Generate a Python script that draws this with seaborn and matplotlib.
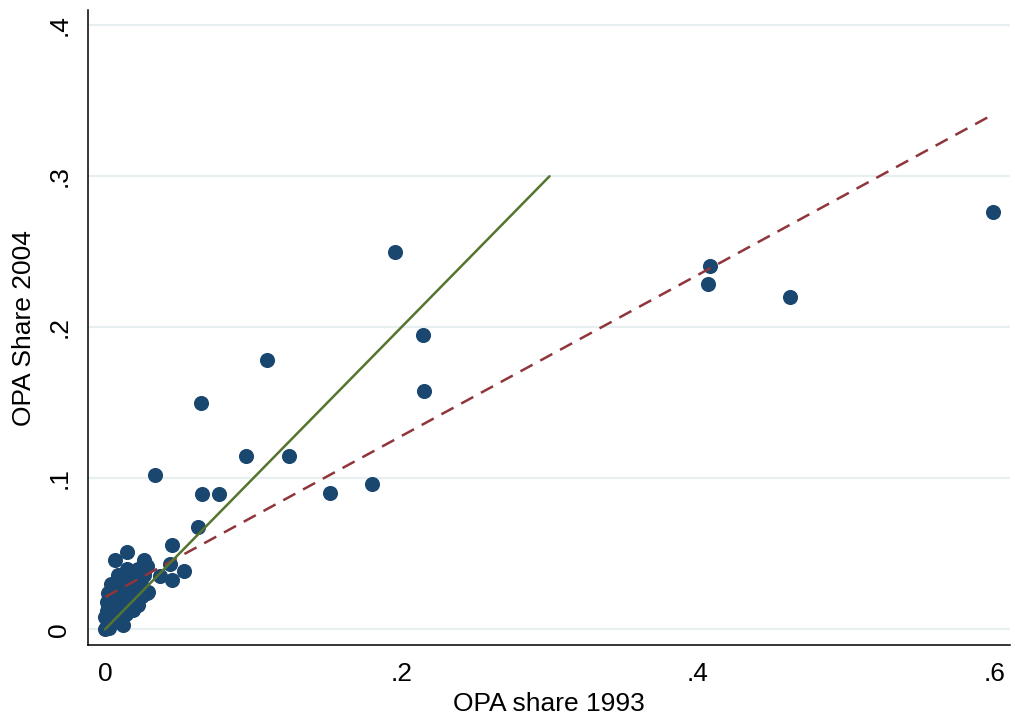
import numpy as np
import pandas as pd
import matplotlib
matplotlib.use("Agg")
import matplotlib.pyplot as plt
import seaborn as sns

# OPA shares (x = 1993, y = 2004)
share_1993 = [
    0.5995, 0.4086, 0.407, 0.462, 0.196, 0.2145, 0.215, 0.109, 0.0645, 0.095,
    0.124, 0.0337, 0.1517, 0.180, 0.0655, 0.077, 0.063, 0.045, 0.053, 0.044,
    0.045, 0.037, 0.028,
    # dense cluster near the origin
    0.000, 0.001, 0.002, 0.000, 0.001, 0.003, 0.002, 0.004, 0.005, 0.006,
    0.003, 0.005, 0.007, 0.008, 0.009, 0.010, 0.011, 0.012, 0.010, 0.008,
    0.006, 0.013, 0.014, 0.012, 0.016, 0.017, 0.018, 0.015, 0.020, 0.021,
    0.019, 0.022, 0.024, 0.026, 0.025, 0.028, 0.029, 0.014, 0.017, 0.022,
    0.007, 0.015, 0.026, 0.027, 0.002, 0.009, 0.003, 0.012, 0.019, 0.0115,
    0.004, 0.001,
]
share_2004 = [
    0.276, 0.2404, 0.2285, 0.220, 0.250, 0.1947, 0.158, 0.178, 0.150, 0.1146,
    0.115, 0.102, 0.090, 0.096, 0.0894, 0.0894, 0.068, 0.056, 0.0384, 0.043,
    0.0325, 0.035, 0.024,
    0.000, 0.002, 0.005, 0.008, 0.012, 0.010, 0.015, 0.004, 0.008, 0.013,
    0.020, 0.018, 0.022, 0.016, 0.010, 0.006, 0.014, 0.020, 0.025, 0.028,
    0.030, 0.027, 0.032, 0.036, 0.024, 0.030, 0.036, 0.040, 0.028, 0.034,
    0.020, 0.040, 0.030, 0.036, 0.022, 0.042, 0.025, 0.010, 0.015, 0.016,
    0.046, 0.051, 0.046, 0.040, 0.024, 0.036, 0.001, 0.003, 0.0126, 0.007,
    0.030, 0.018,
]

# 45-degree reference line and fitted regression line
diag_x = [0.0, 0.3]
diag_y = [0.0, 0.3]
fit_x = [0.0002, 0.5995]
fit_y = [0.0214, 0.341]

x_ticks = [0.0, 0.2, 0.4, 0.6]
x_tick_labels = ["0", ".2", ".4", ".6"]
y_ticks = [0.0, 0.1, 0.2, 0.3, 0.4]
y_tick_labels = ["0", ".1", ".2", ".3", ".4"]

df = pd.DataFrame({"x": share_1993, "y": share_2004})
fit_df = pd.DataFrame({"x": fit_x, "y": fit_y})
diag_df = pd.DataFrame({"x": diag_x, "y": diag_y})

sns.set_style("white")
plt.rcParams["font.family"] = ["Liberation Sans", "DejaVu Sans"]
plt.rcParams["text.color"] = "black"
plt.rcParams["axes.labelcolor"] = "black"
plt.rcParams["xtick.color"] = "black"
plt.rcParams["ytick.color"] = "black"

fig = plt.figure(figsize=(10.15, 7.21), dpi=100)
ax = fig.add_axes([0.0867, 0.105, 0.908, 0.881])

for yt in y_ticks:
    ax.axhline(yt, color="#e8eff1", lw=1.6, zorder=0)

sns.scatterplot(data=df, x="x", y="y", ax=ax, s=118, color="#1a476f",
                linewidth=0, zorder=3, legend=False)
sns.lineplot(data=fit_df, x="x", y="y", ax=ax, color="#90353b", lw=1.8,
             linestyle=(0, (5.5, 3.5)), zorder=4, legend=False)
sns.lineplot(data=diag_df, x="x", y="y", ax=ax, color="#55752f", lw=1.8,
             zorder=5, legend=False)

ax.set_xlim(-0.0115, 0.6105)
ax.set_ylim(-0.0106, 0.41)
ax.set_xticks(x_ticks)
ax.set_xticklabels(x_tick_labels)
ax.set_yticks(y_ticks)
ax.set_yticklabels(y_tick_labels, rotation=90, va="center")

ax.tick_params(axis="both", which="major", direction="out", length=7,
               width=1.1, color="black", labelcolor="black", labelsize=19,
               pad=5)
ax.set_xlabel("OPA share 1993", fontsize=19, labelpad=4, color="black")
ax.set_ylabel("OPA Share 2004", fontsize=19, labelpad=8, color="black")

for side in ["top", "right"]:
    ax.spines[side].set_visible(False)
for side in ["left", "bottom"]:
    ax.spines[side].set_color("black")
    ax.spines[side].set_linewidth(1.1)

fig.savefig("out.png", dpi=100, facecolor="white")
